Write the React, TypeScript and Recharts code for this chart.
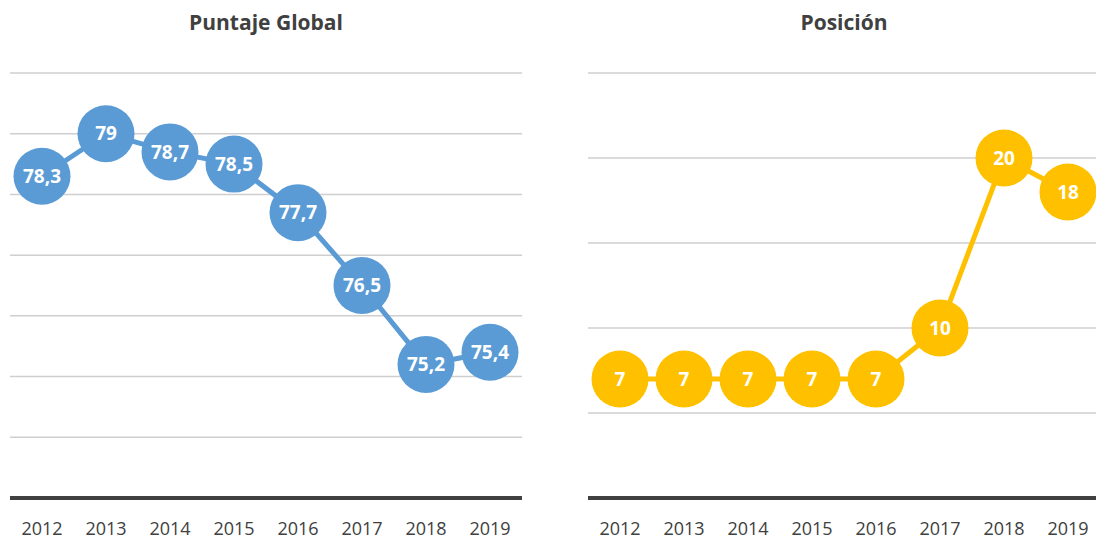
import React from "react";
import {
  LineChart,
  Line,
  XAxis,
  YAxis,
  CartesianGrid,
  LabelList,
} from "recharts";

const years = ["2012", "2013", "2014", "2015", "2016", "2017", "2018", "2019"];
const puntaje = [78.3, 79, 78.7, 78.5, 77.7, 76.5, 75.2, 75.4];
const posicion = [7, 7, 7, 7, 7, 10, 20, 18];
const puntajeTicks = [73, 74, 75, 76, 77, 78, 79, 80];
const posicionTicks = [0, 5, 10, 15, 20, 25];

const puntajeData = years.map((year, i) => ({ year, value: puntaje[i] }));
const posicionData = years.map((year, i) => ({ year, value: posicion[i] }));

const FONT = "'Open Sans', 'Noto Sans', sans-serif";
const TEXT = "#404040";

const fmt = (v: any) => String(v).replace(".", ",");

interface PanelProps {
  title: string;
  data: { year: string; value: number }[];
  ticks: number[];
  color: string;
  width: number;
  left: number;
  marginLeft: number;
  marginRight: number;
}

const Panel: React.FC<PanelProps> = ({
  title,
  data,
  ticks,
  color,
  width,
  left,
  marginLeft,
  marginRight,
}) => {
  const plotCenter = marginLeft + (width - marginLeft - marginRight) / 2;
  return (
    <div style={{ position: "absolute", left, top: 0, width, height: 541 }}>
      <div
        style={{
          position: "absolute",
          top: 8,
          left: plotCenter - 150,
          width: 300,
          textAlign: "center",
          fontFamily: FONT,
          fontWeight: 700,
          fontSize: 21,
          color: TEXT,
        }}
      >
        {title}
      </div>
      <LineChart
        width={width}
        height={541}
        data={data}
        margin={{ top: 73, right: marginRight, left: marginLeft, bottom: 0 }}
      >
        <CartesianGrid vertical={false} stroke="#cfcfcf" strokeWidth={1.5} />
        <XAxis
          dataKey="year"
          padding={{ left: 32, right: 32 }}
          axisLine={{ stroke: TEXT, strokeWidth: 4 }}
          tickLine={false}
          tickSize={0}
          tickMargin={24}
          height={43}
          interval={0}
          tick={{ fill: TEXT, fontSize: 18, fontFamily: FONT }}
        />
        <YAxis
          hide
          domain={[ticks[0], ticks[ticks.length - 1]]}
          ticks={ticks}
          type="number"
        />
        <Line
          type="linear"
          dataKey="value"
          stroke={color}
          strokeWidth={5}
          dot={{ r: 28.5, fill: color, stroke: "none", fillOpacity: 1 }}
          activeDot={false}
          isAnimationActive={false}
        >
          <LabelList
            dataKey="value"
            position="center"
            formatter={fmt}
            fill="#ffffff"
            fontSize={19}
            fontWeight={700}
            fontFamily={FONT}
          />
        </Line>
      </LineChart>
    </div>
  );
};

export default function App() {
  return (
    <div
      style={{
        position: "absolute",
        left: 0,
        top: 0,
        width: 1096,
        height: 541,
        overflow: "hidden",
        background: "#ffffff",
      }}
    >
      <Panel
        title="Puntaje Global"
        data={puntajeData}
        ticks={puntajeTicks}
        color="#5b9bd5"
        width={540}
        left={0}
        marginLeft={10}
        marginRight={18}
      />
      <Panel
        title="Posición"
        data={posicionData}
        ticks={posicionTicks}
        color="#ffc000"
        width={560}
        left={540}
        marginLeft={48}
        marginRight={0}
      />
    </div>
  );
}
